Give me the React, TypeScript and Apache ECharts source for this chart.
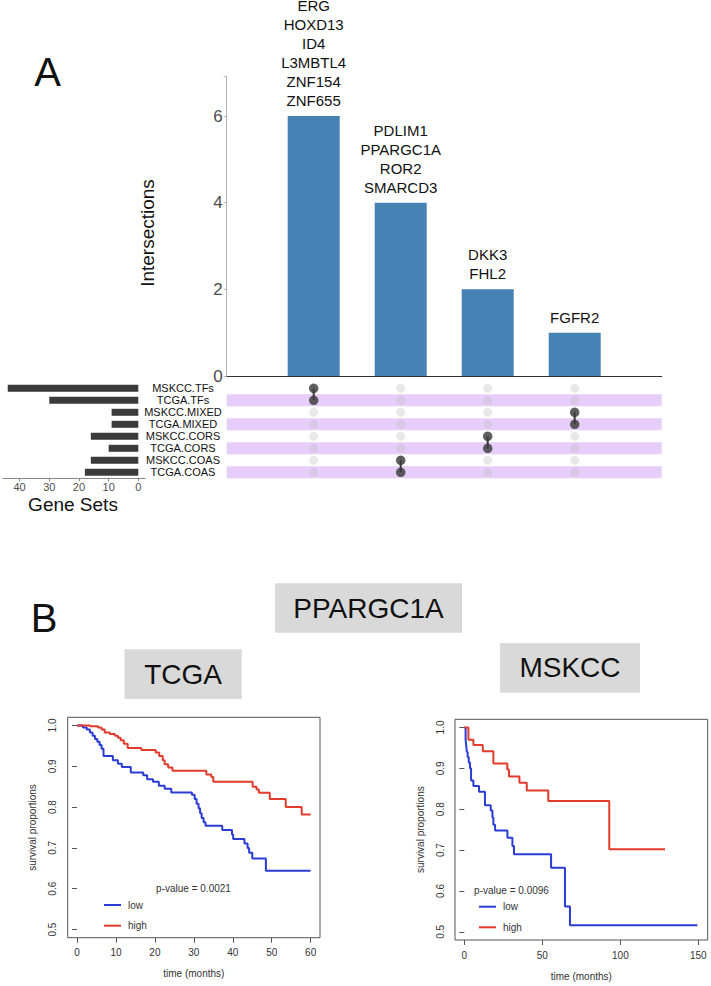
import React, { useEffect, useRef } from 'react';
import * as echarts from 'echarts';

const FONT = 'Liberation Sans, Arial, Helvetica, sans-serif';

// ---------- Panel A: UpSet data ----------
const setNames = ['MSKCC.TFs', 'TCGA.TFs', 'MSKCC.MIXED', 'TCGA.MIXED', 'MSKCC.CORS', 'TCGA.CORS', 'MSKCC.COAS', 'TCGA.COAS'];
const setSizes = [44, 30, 9, 9, 16, 10, 16, 18];
const setSizeTicks = [0, 10, 20, 30, 40];

const intersectionSizes = [6, 4, 2, 1];
const intersectionTicks = [0, 2, 4, 6];
const intersectionGenes = [
  ['ERG', 'HOXD13', 'ID4', 'L3MBTL4', 'ZNF154', 'ZNF655'],
  ['PDLIM1', 'PPARGC1A', 'ROR2', 'SMARCD3'],
  ['DKK3', 'FHL2'],
  ['FGFR2'],
];
const intersectionMembers = [
  ['MSKCC.TFs', 'TCGA.TFs'],
  ['MSKCC.COAS', 'TCGA.COAS'],
  ['MSKCC.CORS', 'TCGA.CORS'],
  ['MSKCC.MIXED', 'TCGA.MIXED'],
];

// ---------- Panel B: Kaplan-Meier data ----------
const tcgaTicksX = [0, 10, 20, 30, 40, 50, 60];
const mskccTicksX = [0, 50, 100, 150];
const survTicks = [0.5, 0.6, 0.7, 0.8, 0.9, 1.0];

const tcgaLow: [number, number][] = [
  [0, 1], [1.5, 0.995], [2.5, 0.99], [3.3, 0.983], [4, 0.975], [4.6, 0.967], [5.2, 0.96], [5.8, 0.952],
  [6.3, 0.943], [6.8, 0.925], [9.2, 0.915], [10.5, 0.906], [11.5, 0.898], [13.8, 0.885], [17, 0.878],
  [18, 0.868], [19.5, 0.862], [21, 0.852], [22.5, 0.845], [24.2, 0.836], [29.5, 0.83], [30.2, 0.82],
  [30.7, 0.808], [31.2, 0.797], [31.6, 0.785], [32, 0.773], [32.5, 0.763], [33, 0.754], [37.3, 0.744],
  [39.8, 0.733], [40.1, 0.722], [43, 0.711], [43.8, 0.7], [44.2, 0.688], [45, 0.674], [48.5, 0.644], [60, 0.644],
];
const tcgaHigh: [number, number][] = [
  [0, 1], [3.3, 0.998], [5.4, 0.995], [6.3, 0.99], [7.1, 0.983], [8.4, 0.979], [9.7, 0.975], [10.5, 0.97],
  [11.2, 0.964], [12, 0.955], [13, 0.945], [16.5, 0.94], [20.2, 0.934], [21.1, 0.925], [22, 0.915],
  [22.5, 0.905], [23.4, 0.897], [24.5, 0.889], [33.2, 0.88], [34.5, 0.874], [35, 0.862], [45.1, 0.85],
  [46.1, 0.843], [46.7, 0.835], [49.5, 0.82], [53.6, 0.8], [57.7, 0.782], [60, 0.782],
];
const mskccLow: [number, number][] = [
  [0, 1], [0.8, 0.97], [1.2, 0.955], [1.6, 0.94], [2.1, 0.928], [2.8, 0.914], [3.6, 0.9], [4.3, 0.87],
  [5.8, 0.857], [9.4, 0.843], [13.2, 0.81], [16.9, 0.797], [18, 0.78], [18.6, 0.762], [19.7, 0.748],
  [27.6, 0.73], [30.8, 0.71], [31.8, 0.69], [55.6, 0.657], [64.5, 0.562], [67.7, 0.516], [149.4, 0.516],
];
const mskccHigh: [number, number][] = [
  [0, 1], [2.6, 0.97], [5.8, 0.957], [11.8, 0.942], [18.6, 0.912], [27.5, 0.897], [28.6, 0.88],
  [35.3, 0.865], [40, 0.846], [53.8, 0.82], [92.9, 0.702], [128.6, 0.702],
];

const BLUE = '#2a3bd6';
const RED = '#e23b2b';
const DARK = '#3b3b3b';

function kmAxes(gridIndex: number, min: number, max: number, ticks: number[]) {
  const x = {
    type: 'value', gridIndex, min, max,
    axisLine: { show: false },
    splitLine: { show: false },
    axisTick: { show: true, customValues: ticks, length: 5, lineStyle: { color: '#555' } },
    axisLabel: { show: true, customValues: ticks, fontSize: 10, color: '#333', margin: 10, fontFamily: FONT },
    name: 'time (months)', nameLocation: 'middle', nameGap: 31,
    nameTextStyle: { fontSize: 10, color: '#333', fontFamily: FONT },
  };
  const y = {
    type: 'value', gridIndex, min: 0.48, max: 1.02,
    axisLine: { show: false },
    splitLine: { show: false },
    axisTick: { show: true, customValues: survTicks, length: 5, lineStyle: { color: '#555' } },
    axisLabel: {
      show: true, customValues: survTicks, rotate: 90, fontSize: 10, color: '#333', margin: 10, fontFamily: FONT,
      formatter: (v: number) => v.toFixed(1),
    },
    name: 'survival proportions', nameLocation: 'middle', nameGap: 30, nameRotate: 90,
    nameTextStyle: { fontSize: 10, color: '#333', fontFamily: FONT },
  };
  return { x, y };
}

function kmSeries(gridIndex: number, data: [number, number][], color: string, name: string) {
  return {
    type: 'line', name, xAxisIndex: gridIndex, yAxisIndex: gridIndex, data, step: 'end',
    showSymbol: false, symbol: 'none', lineStyle: { color, width: 2 }, itemStyle: { color }, z: 3,
  };
}

function legendGraphics(x0: number, yLow: number, yHigh: number, pX: number, pY: number, pText: string) {
  return [
    { type: 'text', x: pX, y: pY, style: { text: pText, fontSize: 10, fill: '#333', align: 'center', verticalAlign: 'middle', fontFamily: FONT } },
    { type: 'line', shape: { x1: x0, y1: yLow, x2: x0 + 17, y2: yLow }, style: { stroke: BLUE, lineWidth: 2 } },
    { type: 'text', x: x0 + 24, y: yLow, style: { text: 'low', fontSize: 10, fill: '#333', align: 'left', verticalAlign: 'middle', fontFamily: FONT } },
    { type: 'line', shape: { x1: x0, y1: yHigh, x2: x0 + 17, y2: yHigh }, style: { stroke: RED, lineWidth: 2 } },
    { type: 'text', x: x0 + 24, y: yHigh, style: { text: 'high', fontSize: 10, fill: '#333', align: 'left', verticalAlign: 'middle', fontFamily: FONT } },
  ];
}

function boxGraphic(x: number, y: number, w: number, h: number, text: string) {
  return [
    { type: 'rect', shape: { x, y, width: w, height: h }, style: { fill: '#d9d9d9' } },
    { type: 'text', x: x + w / 2, y: y + h / 2, style: { text, fontSize: 28, fill: '#111', align: 'center', verticalAlign: 'middle', fontFamily: FONT } },
  ];
}

export default function App() {
  const ref = useRef<HTMLDivElement>(null);

  useEffect(() => {
    if (!ref.current) return;
    const chart = echarts.init(ref.current, undefined, { renderer: 'svg' });

    const grayDots: [number, string][] = [];
    intersectionSizes.forEach((_, ci) => setNames.forEach((s) => grayDots.push([ci + 1, s])));
    const blackDots: [number, string][] = [];
    intersectionMembers.forEach((m, ci) => m.forEach((s) => blackDots.push([ci + 1, s])));
    const connectors = intersectionMembers.map((m, ci) => ({
      type: 'line', xAxisIndex: 1, yAxisIndex: 1, data: m.map((s) => [ci + 1, s]),
      symbol: 'none', showSymbol: false, lineStyle: { color: DARK, width: 2 }, z: 4, silent: true,
    }));

    const km1 = kmAxes(3, -2.4, 62.4, tcgaTicksX);
    const km2 = kmAxes(4, -6, 156, mskccTicksX);

    const option: any = {
      animation: false,
      backgroundColor: '#fff',
      textStyle: { fontFamily: FONT },
      grid: [
        { left: 226.7, top: 76.7, width: 435, height: 299.3 },
        { left: 226.7, top: 382.3, width: 435, height: 96 },
        { left: 3, top: 382.3, width: 142, height: 96 },
        { left: 67.7, top: 717.3, width: 252.3, height: 220.4, show: true, borderColor: '#555', borderWidth: 1, backgroundColor: 'transparent' },
        { left: 455, top: 719.3, width: 252.7, height: 220.7, show: true, borderColor: '#555', borderWidth: 1, backgroundColor: 'transparent' },
      ],
      xAxis: [
        {
          type: 'value', gridIndex: 0, min: 0, max: 5,
          axisLine: { show: true, onZero: false, lineStyle: { color: '#333', width: 1 } },
          axisTick: { show: false }, axisLabel: { show: false }, splitLine: { show: false },
        },
        { type: 'value', gridIndex: 1, min: 0, max: 5, show: false },
        {
          type: 'value', gridIndex: 2, inverse: true, min: -2.25, max: 45.6,
          axisLine: { show: true, onZero: false, lineStyle: { color: '#888' } },
          axisTick: { show: true, customValues: setSizeTicks, length: 3, lineStyle: { color: '#888' } },
          axisLabel: { show: true, customValues: setSizeTicks, fontSize: 11, color: '#4d4d4d', margin: 3, fontFamily: FONT },
          splitLine: { show: false },
        },
        km1.x,
        km2.x,
      ],
      yAxis: [
        {
          type: 'value', gridIndex: 0, min: 0, max: 6.91, interval: 2,
          axisLine: { show: true, lineStyle: { color: '#b3b3b3' } },
          axisTick: { show: true, length: 3, lineStyle: { color: '#b3b3b3' } },
          axisLabel: {
            show: true, fontSize: 17, color: '#4d4d4d', margin: 4, fontFamily: FONT,
            formatter: (v: number) => (intersectionTicks.includes(v) ? String(v) : ''),
          },
          splitLine: { show: false },
        },
        {
          type: 'category', gridIndex: 1, data: setNames, inverse: true,
          axisLine: { show: false }, axisTick: { show: false }, axisLabel: { show: false },
          splitLine: { show: false },
          splitArea: { show: true, interval: 0, areaStyle: { color: ['rgba(255,255,255,0)', '#e6cdfa'] } },
        },
        {
          type: 'category', gridIndex: 2, data: setNames, inverse: true, position: 'right',
          axisLine: { show: false }, axisTick: { show: false },
          axisLabel: { show: true, interval: 0, fontSize: 11, color: '#111', align: 'center', margin: 38, fontFamily: FONT },
          splitLine: { show: false },
        },
        km1.y,
        km2.y,
      ],
      series: [
        {
          type: 'bar', xAxisIndex: 0, yAxisIndex: 0,
          data: intersectionSizes.map((v, i) => [i + 1, v]),
          barWidth: 52, itemStyle: { color: '#4682b4' },
          label: {
            show: true, position: 'top', distance: 6, fontSize: 15, lineHeight: 19, color: '#111', fontFamily: FONT,
            formatter: (p: any) => intersectionGenes[p.dataIndex].join('\n'),
          },
        },
        {
          type: 'scatter', xAxisIndex: 1, yAxisIndex: 1, data: grayDots, symbolSize: 9,
          itemStyle: { color: 'rgba(190,190,190,0.45)' }, z: 3, silent: true,
        },
        ...connectors,
        {
          type: 'scatter', xAxisIndex: 1, yAxisIndex: 1, data: blackDots, symbolSize: 9.5,
          itemStyle: { color: DARK }, z: 5, silent: true,
        },
        {
          type: 'bar', xAxisIndex: 2, yAxisIndex: 2, data: setSizes, barWidth: 7,
          itemStyle: { color: DARK },
        },
        kmSeries(3, tcgaLow, BLUE, 'low'),
        kmSeries(3, tcgaHigh, RED, 'high'),
        kmSeries(4, mskccLow, BLUE, 'low'),
        kmSeries(4, mskccHigh, RED, 'high'),
      ],
      graphic: [
        { type: 'text', x: 47.5, y: 72, style: { text: 'A', fontSize: 40, fill: '#111', align: 'center', verticalAlign: 'middle', fontFamily: FONT } },
        { type: 'text', x: 147, y: 233, rotation: Math.PI / 2, style: { text: 'Intersections', fontSize: 19, fill: '#111', align: 'center', verticalAlign: 'middle', fontFamily: FONT } },
        { type: 'text', x: 73, y: 504, style: { text: 'Gene Sets', fontSize: 19, fill: '#111', align: 'center', verticalAlign: 'middle', fontFamily: FONT } },
        { type: 'text', x: 44, y: 617.5, style: { text: 'B', fontSize: 40, fill: '#111', align: 'center', verticalAlign: 'middle', fontFamily: FONT } },
        ...boxGraphic(275, 583.3, 187, 49.4, 'PPARGC1A'),
        ...boxGraphic(124.5, 649.3, 117.2, 49.7, 'TCGA'),
        ...boxGraphic(500, 643, 140, 49.7, 'MSKCC'),
        ...legendGraphics(104, 905, 925.7, 193.5, 888, 'p-value = 0.0021'),
        ...legendGraphics(479, 906.7, 927.3, 511.5, 890, 'p-value = 0.0096'),
      ],
    };

    chart.setOption(option);
    return () => chart.dispose();
  }, []);

  return <div ref={ref} style={{ position: 'absolute', left: 0, top: 0, width: 711, height: 986 }} />;
}
